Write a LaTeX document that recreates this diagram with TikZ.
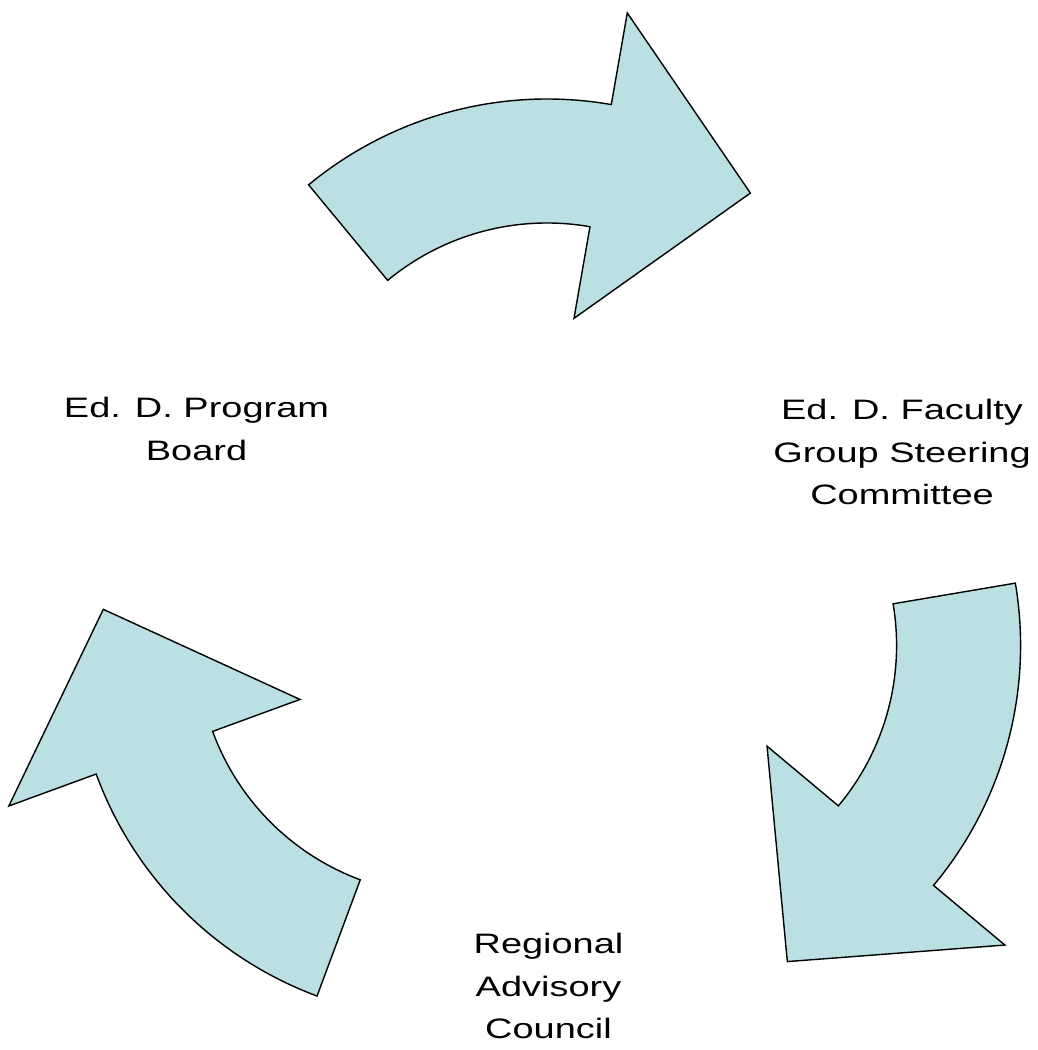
\documentclass[tikz,border=0pt]{standalone}
\usepackage{tikz}
\usepackage{xcolor}
\usepackage{fontspec}
\setmainfont{Liberation Sans}[FakeStretch=1.35]
\usetikzlibrary{positioning}
\definecolor{arrowfill}{RGB}{186,224,227}
\tikzset{
	cyclearrow/.style={fill=arrowfill, draw=black, line width=0.8pt, line join=miter},
	cycletext/.style={align=center, inner sep=0pt, font=\fontsize{16}{24.4}\selectfont},
}
\begin{document}
\begin{tikzpicture}[x=0.02cm, y=0.02cm]
		\useasboundingbox (-547,-462) rectangle (490,588);
		% three curved arrows, each turned by 120 degrees
		\foreach \rot in {0,-120,-240}{
			\begin{scope}[shift={(90+\rot:115)}, rotate=\rot]
				\draw[cyclearrow] (129.6:374) arc[start angle=129.6, end angle=80.1, radius=374]
					-- (80.1:467) -- (54:346) -- (80.1:157) -- (80.1:250)
					arc[start angle=80.1, end angle=129.6, radius=250] -- cycle;
			\end{scope}
		}
		\node[cycletext] (board) at (-350.5,159) {Ed. D. Program\\Board};
		\node[cycletext] (committee) at (355,136) {Ed. D. Faculty\\Group Steering\\Committee};
		\node[cycletext] (council) at (1.5,-398) {Regional\\Advisory\\Council};
	\end{tikzpicture}
\end{document}
